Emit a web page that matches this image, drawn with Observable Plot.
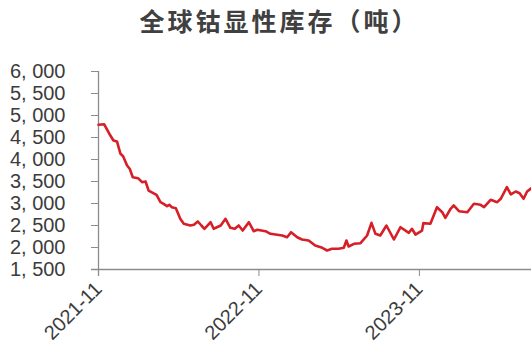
<!DOCTYPE html>
<html>
<head>
<meta charset="utf-8">
<script src="https://cdn.jsdelivr.net/npm/d3@7"></script>
<script src="https://cdn.jsdelivr.net/npm/@observablehq/plot@0.6"></script>
<style>
  html, body { margin: 0; padding: 0; background: #fff; }
  #wrap { width: 531px; height: 360px; overflow: hidden; }
  #title {
    height: 50px; line-height: 40px; text-align: center;
    font-family: "Noto Sans CJK SC", sans-serif; font-weight: 700;
    font-size: 25px; color: #404040; letter-spacing: 3px; padding-left: 28px;
    box-sizing: border-box;
  }
</style>
</head>
<body>
<div id="wrap">
  <div id="title">全球钴显性库存（吨）</div>
  <div id="chart"></div>
</div>
<script>
// Global visible cobalt inventory, tonnes
const dates = [
  "2021-11-01","2021-11-14","2021-11-28","2021-12-05","2021-12-13","2021-12-21","2021-12-27",
  "2022-01-05","2022-01-11","2022-01-18","2022-01-30","2022-02-08","2022-02-16","2022-02-23",
  "2022-03-13","2022-03-22","2022-03-29","2022-04-06","2022-04-11","2022-04-17","2022-04-26",
  "2022-05-06","2022-05-14","2022-05-29","2022-06-06","2022-06-15","2022-06-23","2022-06-30",
  "2022-07-14","2022-07-21","2022-08-06","2022-08-17","2022-08-28","2022-09-07","2022-09-16",
  "2022-09-25","2022-10-09","2022-10-20","2022-10-28","2022-11-16","2022-11-27","2022-12-24",
  "2023-01-04","2023-01-13","2023-01-27","2023-02-07","2023-02-22","2023-03-09","2023-03-25",
  "2023-04-05","2023-04-16","2023-05-01","2023-05-13","2023-05-19","2023-05-24","2023-06-05",
  "2023-06-20","2023-07-05","2023-07-15","2023-07-24","2023-08-04","2023-08-18","2023-09-04",
  "2023-09-19","2023-10-08","2023-10-15","2023-10-23","2023-11-07","2023-11-10","2023-11-26",
  "2023-12-11","2023-12-23","2023-12-30","2024-01-11","2024-01-18","2024-01-30","2024-02-18",
  "2024-03-04","2024-03-19","2024-03-27","2024-04-11","2024-04-26","2024-05-04","2024-05-18",
  "2024-05-27","2024-06-07","2024-06-16","2024-06-25","2024-07-03","2024-07-13"
];
const inventory = [
  4790,4800,4545,4432,4410,4130,4075,
  3864,3790,3598,3575,3484,3500,3295,
  3197,3030,2993,2940,2970,2916,2893,
  2652,2539,2500,2516,2591,2500,2425,
  2575,2425,2500,2652,2448,2425,2500,
  2386,2575,2370,2402,2370,2311,2273,
  2234,2348,2234,2182,2159,2045,1993,
  1932,1970,1970,1993,2159,2023,2084,
  2098,2273,2561,2311,2273,2500,2182,
  2461,2334,2425,2295,2386,2553,2539,
  2916,2802,2675,2880,2955,2825,2802,
  2993,2970,2916,3084,3030,3107,3370,
  3205,3273,3234,3107,3273,3350
];
const xTickLabels = ["2021-11","2022-11","2023-11"];
const yTicks = [1500,2000,2500,3000,3500,4000,4500,5000,5500,6000];

const parse = d3.utcParse("%Y-%m-%d");
const series = dates.map((d, i) => ({date: parse(d), value: inventory[i]}));
const xTicks = xTickLabels.map(s => parse(s + "-01"));
const xStart = xTicks[0];
const xEnd = series[series.length - 1].date;

const axisColor = "#8c8c8c";
const textColor = "#3c3c3c";
const fmt = v => d3.format(",")(v).replace(",", ", ");

const chart = Plot.plot({
  width: 531,
  height: 310,
  marginLeft: 98,
  marginRight: 0,
  marginTop: 21,
  marginBottom: 91,
  style: {fontFamily: "'Liberation Sans', Arial, sans-serif", fontSize: "20px", color: textColor, background: "#fff"},
  x: {type: "utc", domain: [xStart, xEnd], axis: null},
  y: {domain: [1500, 6000], axis: null},
  marks: [
    // y axis line, extended down as the first x tick
    Plot.ruleX([xStart], {y1: 6000, y2: 1500, stroke: axisColor, strokeWidth: 1.3, insetBottom: -7}),
    // x axis line, extended left as the lowest y tick
    Plot.ruleY([1500], {stroke: axisColor, strokeWidth: 1.3, insetLeft: -7}),
    Plot.axisY({ticks: yTicks, tickSize: 7, tickPadding: 26, tickFormat: fmt, stroke: axisColor, fill: textColor, fontSize: 20, label: null}),
    Plot.axisX({ticks: xTicks, tickSize: 7, tickPadding: 9, tickRotate: -45, tickFormat: d3.utcFormat("%Y-%m"), stroke: axisColor, fill: textColor, fontSize: 20, label: null}),
    Plot.line(series, {x: "date", y: "value", stroke: "#d61f26", strokeWidth: 2.6, curve: "linear", strokeLinejoin: "round"})
  ]
});
document.getElementById("chart").appendChild(chart);
</script>
</body>
</html>
